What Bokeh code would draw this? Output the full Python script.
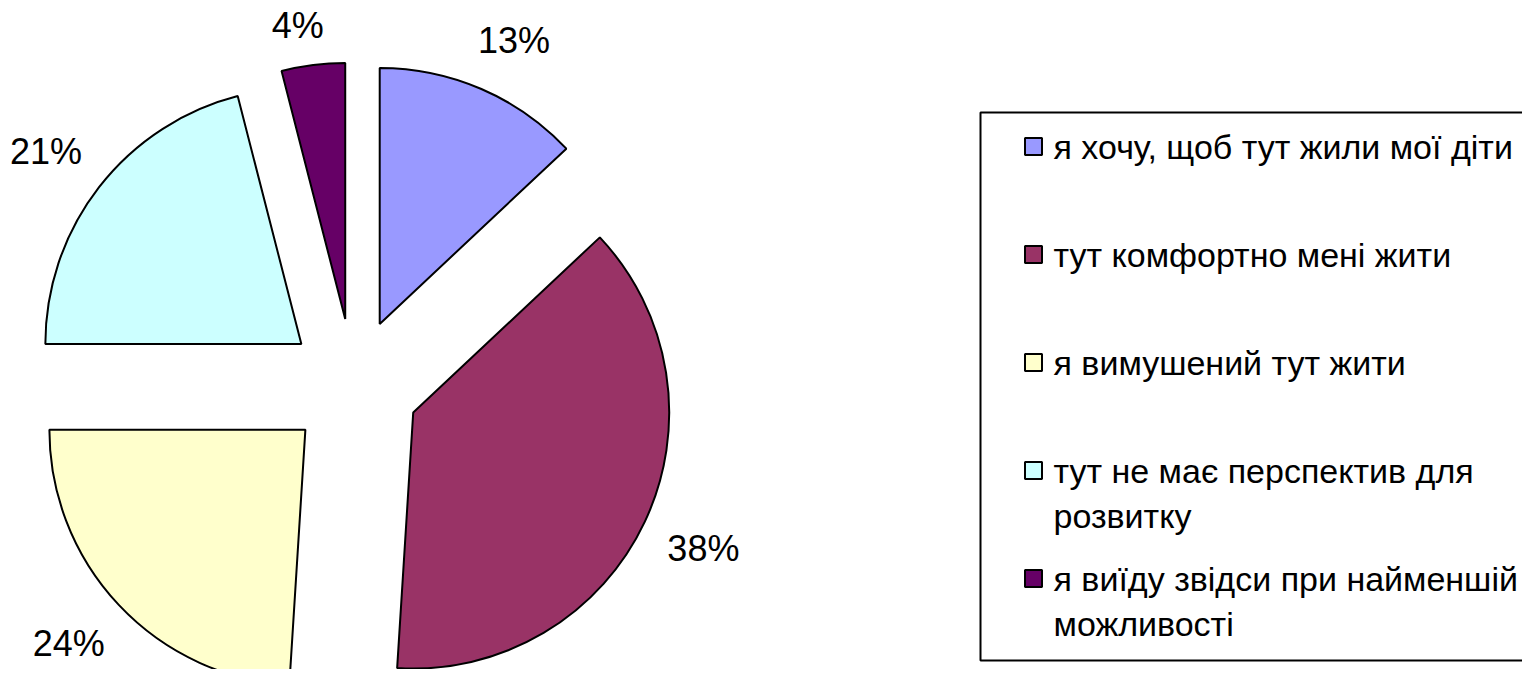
import math
from bokeh.plotting import figure
from bokeh.models import Range1d, ColumnDataSource
from bokeh.core.properties import value
from bokeh.embed import file_html
from bokeh.resources import INLINE

# ---- data ----
categories = [
    "я хочу, щоб тут жили мої діти",
    "тут комфортно мені жити",
    "я вимушений тут жити",
    "тут не має перспектив для\nрозвитку",
    "я виїду звідси при найменшій\nможливості",
]
shares = [13, 38, 24, 21, 4]
labels = ["13%", "38%", "24%", "21%", "4%"]
colors = ["#9999FF", "#993366", "#FFFFCC", "#CCFFFF", "#660066"]

# ---- geometry (pixel-like data units, y up) ----
CX, CY = 353, -384
R = 256
EXPLODE = 66
LABEL_R = 352
FONT = "Liberation Sans"
W = 1522
H = 669

p = figure(width=W, height=H, x_range=Range1d(0, W), y_range=Range1d(-H, 0),
           output_backend="svg", toolbar_location=None, min_border=0)
p.axis.visible = False
p.xgrid.visible = False
p.ygrid.visible = False
p.outline_line_color = None
p.background_fill_color = "white"
p.border_fill_color = "white"


def g(t):
    return math.copysign(math.sqrt(abs(t)), t)


total = float(sum(shares))
cum = 0.0
xs, ys, starts, ends = [], [], [], []
lx, ly = [], []
for s in shares:
    a0 = cum / total
    a1 = (cum + s) / total
    cum += s
    start = math.pi / 2 - a1 * 2 * math.pi
    end = math.pi / 2 - a0 * 2 * math.pi
    mid = (start + end) / 2
    dx, dy = math.cos(mid), math.sin(mid)
    xs.append(CX + EXPLODE * dx)
    ys.append(CY + EXPLODE * dy)
    starts.append(start)
    ends.append(end)
    lx.append(CX + LABEL_R * dx + 33 * g(dx))
    ly.append(min(CY + LABEL_R * dy + 22 * g(dy), -25))

src = ColumnDataSource(dict(x=xs, y=ys, start=starts, end=ends, color=colors))
p.wedge(x="x", y="y", radius=R, start_angle="start", end_angle="end", source=src,
        fill_color="color", line_color="black", line_width=2)

p.text(x=lx, y=ly, text=labels, text_font=value(FONT), text_font_size="36px",
       text_align="center", text_baseline="middle", text_color="black")

# ---- legend ----
p.quad(left=[980], right=[1570], top=[-112], bottom=[-660], fill_color=None,
       line_color="black", line_width=2)
y0, step, line_gap = 146, 108, 45
tx, ty, tt = [], [], []
sx, sy = [], []
for i, cat in enumerate(categories):
    yy = y0 + i * step
    sx.append(1033)
    sy.append(-yy)
    for j, line in enumerate(cat.split("\n")):
        tx.append(1053)
        ty.append(-(yy + j * line_gap))
        tt.append(line)
p.rect(x=sx, y=sy, width=17, height=17, fill_color=colors, line_color="black", line_width=2)
p.text(x=tx, y=ty, text=tt, text_font=value(FONT), text_font_size="34px",
       text_align="left", text_baseline="middle", text_color="black")

open("out.html", "w").write(file_html(p, INLINE))
